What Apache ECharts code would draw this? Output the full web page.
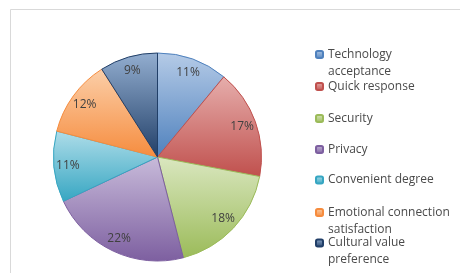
<!DOCTYPE html>
<html>
<head>
<meta charset="utf-8">
<script src="https://cdn.jsdelivr.net/npm/echarts@6/dist/echarts.min.js"></script>
<style>
  html, body { margin: 0; padding: 0; background: #fff; }
  #chart { width: 460px; height: 273px; }
</style>
</head>
<body>
<div id="chart"></div>
<script>
// chart data
const categories = [
  "Technology acceptance",
  "Quick response",
  "Security",
  "Privacy",
  "Convenient degree",
  "Emotional connection satisfaction",
  "Cultural value preference",
];
const shares = [11, 17, 18, 22, 11, 12, 9];
const legendLabels = [
  "Technology\nacceptance",
  "Quick response",
  "Security",
  "Privacy",
  "Convenient degree",
  "Emotional connection\nsatisfaction",
  "Cultural value\npreference",
];

// office-style palette: light top -> base bottom
const lightColors = ["#b5cbe7", "#e6aeac", "#dae7c0", "#c8bbda", "#afdde9", "#fbcfa9", "#93aed0"];
const baseColors = ["#4f81bd", "#c0504d", "#9bbb59", "#7d5fa0", "#36a6c2", "#f68c3e", "#213f68"];

// legend layout: vertical centre of each legend swatch
const legendIconY = [54.5, 86.5, 118.5, 149.5, 180, 212.5, 243];
const LINE_H = 17;

const chart = echarts.init(document.getElementById("chart"));
const font = "'Open Sans', Lato, sans-serif";

const pieData = categories.map((name, i) => ({
  name: name,
  value: shares[i],
  itemStyle: {
    color: new echarts.graphic.LinearGradient(0, 0, 0, 1, [
      { offset: 0, color: lightColors[i] },
      { offset: 1, color: baseColors[i] },
    ]),
    borderColor: baseColors[i],
    borderWidth: 1,
  },
}));

const labelData = categories.map((name, i) => ({ name: name, value: shares[i] }));

// one legend per entry so the rows keep an even pitch like the original.
// legend text is centred on the swatch, so two-line entries get an empty
// line on top: the first real line then sits level with the swatch
const legends = categories.map((name, i) => {
  const extraLines = legendLabels[i].split("\n").length - 1;
  const text = "\n".repeat(extraLines) + legendLabels[i];
  return {
    orient: "vertical",
    left: 315,
    top: legendIconY[i] - LINE_H / 2 - extraLines * LINE_H,
    padding: 0,
    itemWidth: 7,
    itemHeight: 7,
    selectedMode: false,
    data: [name],
    formatter: () => text,
    textStyle: {
      fontFamily: font,
      fontSize: 12,
      color: "#4a4a4a",
      lineHeight: LINE_H,
    },
  };
});

chart.setOption({
  animation: false,
  backgroundColor: "#fff",
  graphic: [
    {
      type: "rect",
      left: 8,
      top: 7,
      shape: { width: 470, height: 300 },
      style: { fill: "none", stroke: "#d9d9d9", lineWidth: 1 },
      silent: true,
    },
  ],
  legend: legends,
  series: [
    {
      type: "pie",
      center: [157.5, 157],
      radius: [0, 104],
      startAngle: 90,
      silent: true,
      label: { show: false },
      labelLine: { show: false },
      data: pieData,
    },
    {
      // ring used only to place the percent labels near the rim
      type: "pie",
      center: [157.5, 157],
      radius: [70, 104],
      startAngle: 90,
      silent: true,
      itemStyle: { color: "rgba(0,0,0,0)", borderWidth: 0 },
      label: {
        show: true,
        position: "inside",
        formatter: "{c}%",
        fontFamily: font,
        fontSize: 12,
        color: "#404040",
      },
      labelLine: { show: false },
      data: labelData,
    },
  ],
});
</script>
</body>
</html>
